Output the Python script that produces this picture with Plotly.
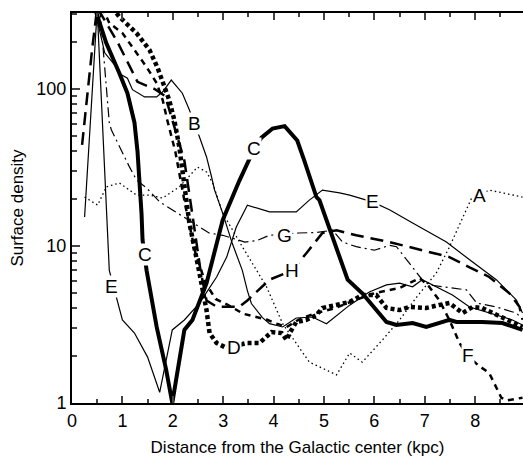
import math
import plotly.graph_objects as go

# ---- data ----
A_x = [0.25,0.51,0.68,0.94,1.28,1.54,1.80,2.13,2.49,2.67,2.79,2.99,3.38,3.86,4.18,4.71,5.05,5.25,5.51,5.76,6.16,6.50,6.84,7.23,7.49,7.93,8.28,8.94]
A_y = [20.5,18.2,23.8,25.2,21.1,21.1,20.2,23.8,31.8,29.6,25.2,16.2,9.9,5.5,3.2,1.82,1.62,1.51,2.08,1.82,2.52,3.38,4.73,6.73,9.86,20.2,22.7,20.5]

B_x = [0.45,0.65,0.88,0.98,1.10,1.20,1.44,1.68,1.80,1.93,1.97,2.19,2.33,2.53,2.67,2.77,2.83,2.99,3.18,3.38,3.48,3.56,3.78,3.92,4.18,4.45,4.77,5.05,5.51,5.90,6.24,6.50,6.76,6.95,7.23,7.55,7.89,8.28,8.74,8.94]
B_y = [320,170,138,123,117,99,89,89,96,111,114,94,73.5,49.5,36.9,27.5,22.7,16.2,10.4,7.0,5.2,4.3,3.5,3.2,3.05,3.48,3.53,3.2,4.2,5.1,5.65,5.8,5.5,6.1,5.5,4.87,4.09,3.74,3.38,3.14]

C_x = [0.45,0.68,0.94,1.10,1.24,1.30,1.38,1.40,1.48,1.68,1.87,1.99,2.23,2.39,2.67,2.99,3.32,3.48,3.62,3.76,3.98,4.22,4.47,4.61,4.85,4.91,5.25,5.47,5.76,6.04,6.24,6.44,6.76,7.03,7.49,7.63,8.14,8.54,8.94]
C_y = [330,196,126,94,61,40,16,10.9,7.0,3.05,1.62,1.0,2.92,3.38,5.8,14.6,26,33.8,42,49,56,58,47,35,20.5,19.6,9.9,6.1,5.0,3.91,3.28,3.14,3.23,3.05,3.38,3.28,3.28,3.23,2.92]

D_x = [0.80,0.94,1.28,1.54,1.70,1.84,1.93,2.03,2.13,2.19,2.33,2.53,2.67,2.73,2.87,3.07,3.46,3.72,3.96,4.16,4.26,4.32,4.45,4.65,4.85,4.97,5.25,5.51,5.76,6.04,6.24,6.50,6.70,7.03,7.29,7.49,7.75,7.95,8.14,8.54,8.94]
D_y = [330,288,227,177,136,103,85,63.5,42.7,30.5,14,6.7,3.9,2.79,2.41,2.24,2.41,2.41,2.83,2.79,2.52,2.79,3.28,3.38,3.63,4.03,4.21,4.40,4.87,4.87,4.03,3.91,4.09,4.03,4.21,4.33,3.74,4.09,4.03,3.53,3.05]

E_x = [0.25,0.50,0.74,0.90,1.00,1.24,1.50,1.74,1.99,2.23,2.53,2.87,3.07,3.26,3.48,3.92,4.45,4.71,4.97,5.31,5.51,5.96,6.30,6.76,7.43,7.95,8.42,8.82,8.94]
E_y = [15.3,320,7.0,4.53,3.38,2.79,1.96,1.17,2.92,3.38,4.33,6.35,8.5,13.2,18.2,16.5,16.5,19.6,22.7,21.8,21.1,19.1,17,14,10.6,7.9,6.1,4.53,3.74]

F_x = [0.60,0.74,1.00,1.28,1.48,1.68,1.80,1.89,2.05,2.25,2.45,2.65,2.85,3.10,3.40,3.86,4.06,4.26,4.50,4.80,5.20,5.60,6.00,6.50,6.90,7.09,7.29,7.49,7.69,7.85,8.05,8.28,8.42,8.52,8.64,8.94]
F_y = [330,263,227,170,138,109,85,63.5,40,18,9,5.8,4.6,4.2,3.7,3.4,3.2,3.05,3.4,3.7,4.0,4.5,5.0,5.4,6.25,5.5,4.5,3.38,2.41,2.0,1.75,1.55,1.26,1.08,1.04,1.08]

G_x = [0.55,0.62,0.70,0.74,0.78,0.94,1.14,1.28,1.48,1.74,2.33,2.72,2.99,3.43,3.66,3.92,4.50,4.86,5.17,5.37,5.64,6.00,6.30,6.44,6.95,7.09,7.83,8.03,8.42,8.82,8.94]
G_y = [330,170,90,61,55,42.7,31.9,26.3,23.4,19.1,14.6,12.1,11.7,10.6,10.8,11.7,12.1,12.2,12.6,10.6,9.9,9.4,10.1,9.9,6.1,5.65,5.25,4.33,4.09,3.74,3.4]

H_x = [0.20,0.30,0.40,0.50,0.90,1.30,1.64,1.85,2.07,2.23,2.40,2.55,2.67,2.87,3.32,3.48,3.92,4.37,4.65,4.97,5.25,5.64,6.30,6.95,7.49,7.89,8.28,8.68,8.88,8.94]
H_y = [44,90,180,330,200,111,100,90,53,35,15,7,4.5,4.1,4.1,4.5,6.1,7.0,9.0,12.1,12.6,11.7,10.6,9.4,8.5,7.3,6.35,5.0,4.1,3.4]

LABELS = ["A","B","C","C","D","E","E","F","G","H"]
LABEL_X = [8.09,2.43,3.62,1.44,3.22,5.96,0.78,7.85,4.22,4.37]
LABEL_Y = [21.1,60.7,42,8.8,2.27,19.1,5.5,2.0,11.7,7.0]

X_TICKS = [0,1,2,3,4,5,6,7,8]
Y_TICKS = [1,10,100]

series = [
    (A_x, A_y, dict(color="black", width=1.3, dash="1.5px,3px")),
    (B_x, B_y, dict(color="black", width=1.2)),
    (C_x, C_y, dict(color="black", width=4)),
    (D_x, D_y, dict(color="black", width=4.5, dash="4px,3px")),
    (E_x, E_y, dict(color="black", width=1.2)),
    (F_x, F_y, dict(color="black", width=2.5, dash="6px,5px")),
    (G_x, G_y, dict(color="black", width=1.2, dash="10px,4px,2px,4px")),
    (H_x, H_y, dict(color="black", width=2.5, dash="13px,7px")),
]

fig = go.Figure()
for xs, ys, ln in series:
    fig.add_trace(go.Scatter(x=xs, y=ys, mode="lines", line=ln, showlegend=False, hoverinfo="skip"))

for t, x, y in zip(LABELS, LABEL_X, LABEL_Y):
    fig.add_annotation(x=x, y=math.log10(y), text=t, showarrow=False, bgcolor="white", borderpad=0,
                       font=dict(size=19, color="black", family="Liberation Sans, Arial"))

fig.update_layout(
    width=523, height=461,
    margin=dict(l=72, r=0, t=13, b=58),
    paper_bgcolor="white", plot_bgcolor="white",
    font=dict(family="Liberation Sans, Arial", color="black", size=18),
    showlegend=False,
)
fig.update_xaxes(range=[0, 8.95], tickvals=X_TICKS, ticks="inside", ticklen=7, tickwidth=1.5,
                 showline=True, linewidth=2, linecolor="black", mirror="ticks", showgrid=False, zeroline=False,
                 minor=dict(dtick=0.5, tick0=0, ticks="inside", ticklen=4, tickwidth=1.5, showgrid=False),
                 title=dict(text="Distance from the Galactic center (kpc)", font=dict(size=17), standoff=12),
                 tickfont=dict(size=18))
fig.update_yaxes(type="log", range=[0, 2.484], tickvals=Y_TICKS, ticktext=["1","10","100"],
                 ticks="inside", ticklen=8, tickwidth=1.5,
                 showline=True, linewidth=2, linecolor="black", showgrid=False, zeroline=False,
                 minor=dict(tickvals=[2,3,4,5,6,7,8,9,20,30,40,50,60,70,80,90,200,300], ticks="inside", ticklen=5, tickwidth=1.5, showgrid=False),
                 title=dict(text="Surface density", font=dict(size=17), standoff=8),
                 tickfont=dict(size=18))

fig.write_html("out.html")
